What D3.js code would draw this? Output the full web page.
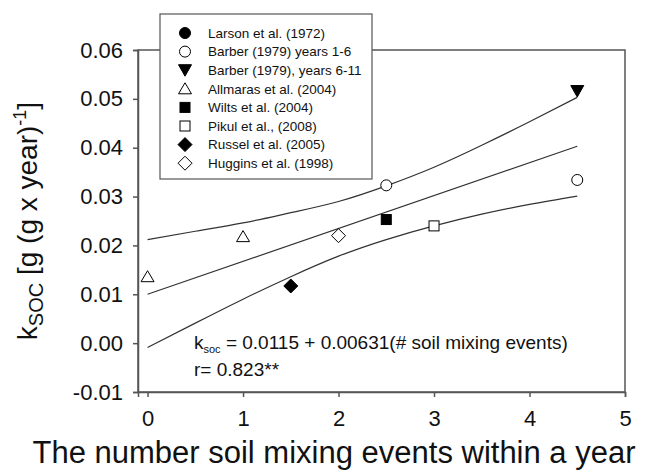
<!DOCTYPE html>
<html><head><meta charset="utf-8">
<script src="https://cdn.jsdelivr.net/npm/d3@7"></script>
<style>body{margin:0;background:#fff}svg{display:block}text{font-family:"Liberation Sans",Arial,sans-serif;fill:#111}</style>
</head><body>
<svg id="c" width="649" height="474"></svg>
<script>
// ---- data ----
const xTicks = [0, 1, 2, 3, 4, 5];
const yTicks = [-0.01, 0.00, 0.01, 0.02, 0.03, 0.04, 0.05, 0.06];
const studies = ["Larson et al. (1972)", "Barber (1979) years 1-6", "Barber (1979), years 6-11",
  "Allmaras et al. (2004)", "Wilts et al. (2004)", "Pikul et al., (2008)", "Russel et al. (2005)", "Huggins et al. (1998)"];
const symbols = ["circleFilled", "circleOpen", "triDownFilled", "triUpOpen", "squareFilled", "squareOpen", "diamondFilled", "diamondOpen"];
const larson   = [];
const barber16 = [[2.5, 0.0323], [4.5, 0.0334]];
const barber611 = [[4.5, 0.0516]];
const allmaras = [[0, 0.0136], [1, 0.0218]];
const wilts    = [[2.5, 0.0253]];
const pikul    = [[3, 0.0240]];
const russel   = [[1.5, 0.0117]];
const huggins  = [[2, 0.0220]];
const seriesData = [larson, barber16, barber611, allmaras, wilts, pikul, russel, huggins];
const fitLine   = [[0, 0.0100], [4.5, 0.0403]];
const upperBand = [[0, 0.0212], [0.5, 0.0229], [1, 0.0246], [1.5, 0.0267], [2, 0.0290], [2.5, 0.0322], [3, 0.0360], [3.5, 0.0405], [4, 0.0453], [4.5, 0.0503]];
const lowerBand = [[0, -0.0009], [0.5, 0.0041], [1, 0.0090], [1.5, 0.0136], [2, 0.0178], [2.5, 0.0212], [3, 0.0240], [3.5, 0.0264], [4, 0.0284], [4.5, 0.0301]];

// ---- drawing ----
const svg = d3.select("#c");
const x = d3.scaleLinear().domain([-0.1, 5]).range([138, 625]);
const y = d3.scaleLinear().domain([-0.01, 0.06]).range([392, 50]);
const ink = "#111", frame = "#555";

svg.append("rect").attr("x", 138).attr("y", 50).attr("width", 625 - 138).attr("height", 392 - 50)
  .attr("fill", "none").attr("stroke", frame).attr("stroke-width", 1.5);

const gx = svg.append("g").attr("transform", "translate(0,392)")
  .call(d3.axisBottom(x).tickValues(xTicks).tickFormat(d3.format("d")).tickSizeOuter(0).tickSize(5).tickPadding(13));
const gy = svg.append("g").attr("transform", "translate(138,0)")
  .call(d3.axisLeft(y).tickValues(yTicks).tickFormat(d3.format(".2f")).tickSizeOuter(0).tickSize(5).tickPadding(10));
[gx, gy].forEach(g => {
  g.selectAll("path,line").attr("stroke", frame).attr("stroke-width", 1.5);
  g.selectAll("text").attr("font-size", 22).attr("fill", ink).style("font-family", '"Liberation Sans",Arial,sans-serif');
});
gy.selectAll(".tick text").text(d => d < 0 ? "-" + d3.format(".2f")(-d) : d3.format(".2f")(d));

const line = d3.line().x(d => x(d[0])).y(d => y(d[1]));
const curve = d3.line().x(d => x(d[0])).y(d => y(d[1])).curve(d3.curveNatural);
svg.append("path").attr("d", line(fitLine)).attr("fill", "none").attr("stroke", "#333").attr("stroke-width", 1.2);
svg.append("path").attr("d", curve(upperBand)).attr("fill", "none").attr("stroke", "#333").attr("stroke-width", 1.2);
svg.append("path").attr("d", curve(lowerBand)).attr("fill", "none").attr("stroke", "#333").attr("stroke-width", 1.2);

function drawSymbol(g, kind, cx, cy) {
  const filled = kind.endsWith("Filled");
  let el;
  if (kind.startsWith("circle")) {
    el = g.append("circle").attr("cx", cx).attr("cy", cy).attr("r", 5.5);
  } else if (kind.startsWith("square")) {
    el = g.append("rect").attr("x", cx - 5).attr("y", cy - 5).attr("width", 10).attr("height", 10);
  } else if (kind.startsWith("triDown")) {
    el = g.append("path").attr("d", `M${cx - 6.5},${cy - 5.5}L${cx + 6.5},${cy - 5.5}L${cx},${cy + 6}Z`);
  } else if (kind.startsWith("triUp")) {
    el = g.append("path").attr("d", `M${cx - 6.5},${cy + 5}L${cx + 6.5},${cy + 5}L${cx},${cy - 6}Z`);
  } else {
    el = g.append("path").attr("d", `M${cx},${cy - 7}L${cx + 7},${cy}L${cx},${cy + 7}L${cx - 7},${cy}Z`);
  }
  el.attr("fill", filled ? "#000" : "#fff").attr("stroke", "#000").attr("stroke-width", 1);
}

const pts = svg.append("g");
seriesData.forEach((arr, i) => arr.forEach(d => drawSymbol(pts, symbols[i], x(d[0]), y(d[1]))));

// legend
const lg = svg.append("g");
lg.append("rect").attr("x", 160).attr("y", 14).attr("width", 212).attr("height", 165)
  .attr("fill", "#fff").attr("stroke", frame).attr("stroke-width", 1.2);
studies.forEach((s, i) => {
  const cy = 33 + i * 18.6;
  drawSymbol(lg, symbols[i], 185, cy);
  lg.append("text").attr("x", 208).attr("y", cy + 4.8).attr("font-size", 13.5).text(s);
});

// equation
const eq = svg.append("text").attr("x", 194).attr("y", 349).attr("font-size", 19);
eq.append("tspan").text("k");
eq.append("tspan").attr("font-size", 11).attr("dy", 4).text("soc");
eq.append("tspan").attr("dy", -4).text(" = 0.0115 + 0.00631(# soil mixing events)");
svg.append("text").attr("x", 194).attr("y", 376).attr("font-size", 19).text("r= 0.823**");

// axis titles
svg.append("text").attr("x", 334).attr("y", 463).attr("text-anchor", "middle").attr("font-size", 31)
  .text("The number soil mixing events within a year");
const yl = svg.append("text").attr("transform", "translate(37,221) rotate(-90)").attr("text-anchor", "middle").attr("font-size", 28);
yl.append("tspan").text("k");
yl.append("tspan").attr("font-size", 20).attr("dy", 6).text("SOC");
yl.append("tspan").attr("dy", -6).text(" [g (g x year)");
yl.append("tspan").attr("font-size", 18).attr("dy", -11).text("-1");
yl.append("tspan").attr("dy", 11).text("]");
</script>
</body></html>
